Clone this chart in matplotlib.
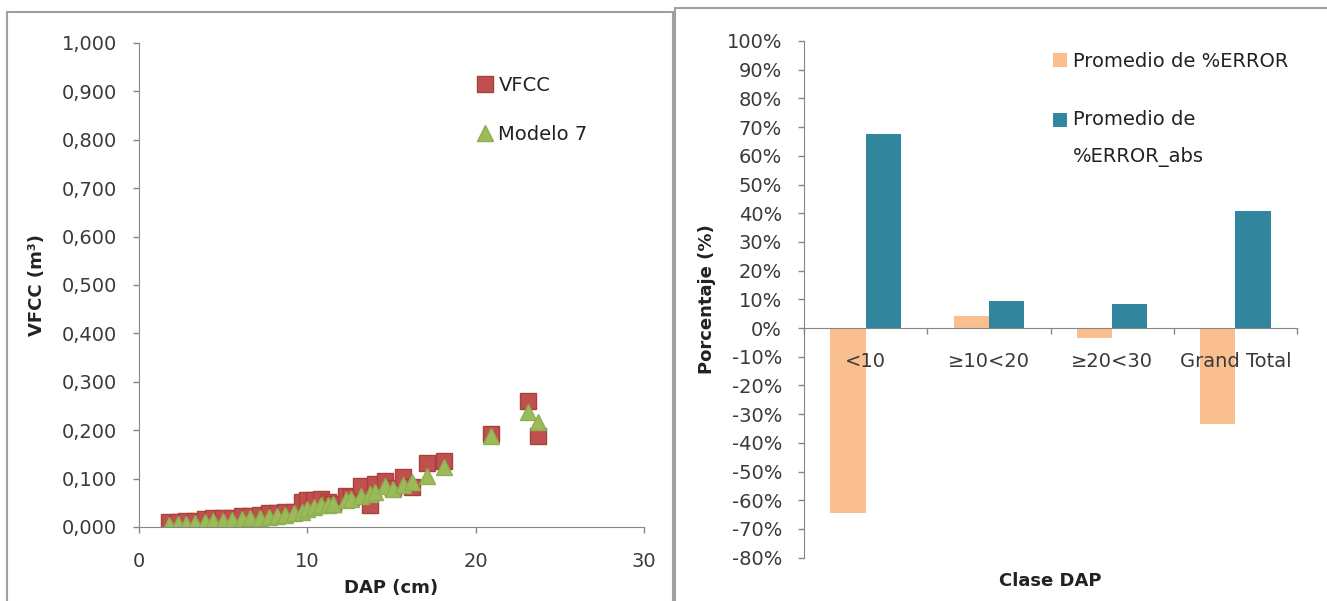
import numpy as np
import matplotlib
matplotlib.use('Agg')
import matplotlib.pyplot as plt
from matplotlib.patches import Rectangle
from matplotlib.legend_handler import HandlerPatch

plt.rcParams['font.family'] = ['DejaVu Sans']

# Volumen por árbol: DAP (cm) contra VFCC observado y el modelo 7
dap = [1.8, 2.3, 2.8, 3.3, 3.9, 4.4, 5.0, 5.5, 6.1, 6.6, 7.2, 7.7, 8.2, 8.7,
       9.2, 9.7, 10.0, 10.4, 10.8, 11.2, 11.5, 12.3, 12.6, 13.2, 13.7, 14.0,
       14.6, 15.1, 15.7, 16.2, 17.1, 18.1, 20.9, 23.1, 23.7]
vfcc = [0.010, 0.011, 0.012, 0.013, 0.017, 0.018, 0.018, 0.019, 0.022, 0.023,
        0.025, 0.028, 0.029, 0.030, 0.032, 0.052, 0.055, 0.056, 0.057, 0.052,
        0.047, 0.064, 0.062, 0.085, 0.045, 0.088, 0.095, 0.080, 0.103, 0.083,
        0.133, 0.137, 0.193, 0.261, 0.189]
modelo7 = [0.005, 0.006, 0.007, 0.008, 0.010, 0.012, 0.013, 0.015, 0.016,
           0.018, 0.019, 0.021, 0.023, 0.025, 0.028, 0.032, 0.038, 0.042,
           0.045, 0.046, 0.048, 0.056, 0.058, 0.064, 0.068, 0.072, 0.085,
           0.078, 0.086, 0.092, 0.105, 0.125, 0.188, 0.238, 0.217]

# Error promedio por clase diamétrica (%)
clases = ['<10', '≥10<20', '≥20<30', 'Grand Total']
error_prom = [-64.5, 4.3, -3.6, -33.5]
error_abs_prom = [67.5, 9.5, 8.3, 40.8]

W, H = 1327, 601
gris = '#868686'
texto = '#3a3a3a'


def fx(px):
    return px / W


def fy(py):
    return 1 - py / H


class HandlerArriba(HandlerPatch):
    # cuadro de leyenda alineado con la primera línea del texto
    def __init__(self, despl, **kw):
        super().__init__(**kw)
        self.despl = despl

    def create_artists(self, legend, orig_handle, xdescent, ydescent, width,
                       height, fontsize, trans):
        arts = super().create_artists(legend, orig_handle, xdescent, ydescent,
                                      width, height, fontsize, trans)
        for a in arts:
            a.set_y(a.get_y() + self.despl)
        return arts


fig = plt.figure(figsize=(W / 100, H / 100), dpi=100)
fig.patch.set_facecolor('white')

# marcos de los dos gráficos
fig.patches.append(Rectangle((fx(7), fy(640)), fx(673) - fx(7), fy(12) - fy(640),
                             transform=fig.transFigure, fill=False,
                             edgecolor='#a0a0a0', lw=1.5))
fig.patches.append(Rectangle((fx(675), fy(640)), fx(1340) - fx(675), fy(8) - fy(640),
                             transform=fig.transFigure, fill=False,
                             edgecolor='#a0a0a0', lw=1.5))

# ---------- dispersión ----------
ax1 = fig.add_axes([fx(139), fy(527), (644 - 139) / W, (527 - 43) / H])
ax1.plot(dap, vfcc, 's', ms=11, color='#C0504D', mec='#A8403D', label='VFCC')
ax1.plot(dap, modelo7, '^', ms=11, color='#9BBB59', mec='#8FAE52', label='Modelo 7')
ax1.set_xlim(0, 30)
ax1.set_ylim(0, 1)
ax1.set_xticks([0, 10, 20, 30])
yt = np.arange(0, 1.01, 0.1)
ax1.set_yticks(yt)
ax1.set_yticklabels([f'{v:.3f}'.replace('.', ',') for v in yt])
for s in ['top', 'right']:
    ax1.spines[s].set_visible(False)
for s in ['left', 'bottom']:
    ax1.spines[s].set_color(gris)
ax1.tick_params(axis='both', direction='out', length=4.3, width=1, color=gris,
                labelsize=14, labelcolor=texto)
ax1.tick_params(axis='x', pad=13.5)
ax1.tick_params(axis='y', pad=11.5)
ax1.set_xlabel('DAP (cm)', fontsize=13, fontweight='bold', color='#222222', va='center')
ax1.xaxis.set_label_coords(0.5, (527 - 588) / (527 - 43))
ax1.set_ylabel('VFCC (m³)', fontsize=13, fontweight='bold', color='#222222', va='center')
ax1.yaxis.set_label_coords((37 - 139) / (644 - 139), 0.5)

leg1 = ax1.legend(loc='upper left', bbox_to_anchor=(fx(477), fy(76)),
                  bbox_transform=fig.transFigure, frameon=False, fontsize=14,
                  handlelength=0.8, handletextpad=0.3, borderpad=0,
                  borderaxespad=0, labelspacing=1.52, numpoints=1)
for t in leg1.get_texts():
    t.set_color('#222222')

# ---------- barras ----------
ax2 = fig.add_axes([fx(804), fy(557.6), (1297 - 804) / W, (557.6 - 41) / H])
x = np.arange(len(clases))
w = 0.285
b1 = ax2.bar(x - w / 2, error_prom, w, color='#FABF8F')
b2 = ax2.bar(x + w / 2, error_abs_prom, w, color='#31859C')
ax2.set_xlim(-0.5, len(clases) - 0.5)
ax2.set_ylim(-80, 100)
yt2 = np.arange(-80, 101, 10)
ax2.set_yticks(yt2)
ax2.set_yticklabels([f'{v}%' for v in yt2])
ax2.set_xticks(np.arange(-0.5, len(clases), 1))
ax2.set_xticklabels([])
ax2.set_xticks(x, minor=True)
ax2.set_xticklabels(clases, minor=True)
for s in ['top', 'right']:
    ax2.spines[s].set_visible(False)
ax2.spines['bottom'].set_position(('data', 0))
for s in ['left', 'bottom']:
    ax2.spines[s].set_color(gris)
ax2.tick_params(axis='both', which='both', direction='out', width=1, color=gris,
                labelsize=14, labelcolor=texto)
ax2.tick_params(axis='y', length=4.3, pad=11.5)
ax2.tick_params(axis='x', which='major', length=4.3)
ax2.tick_params(axis='x', which='minor', length=0, pad=17)
ax2.set_xlabel('Clase DAP', fontsize=13, fontweight='bold', color='#222222', va='center')
ax2.xaxis.set_label_coords(0.5, (557.6 - 581) / (557.6 - 41))
ax2.set_ylabel('Porcentaje (%)', fontsize=13, fontweight='bold', color='#222222', va='center')
ax2.yaxis.set_label_coords((707 - 804) / (1297 - 804), 0.5)

h1, h2 = b1.patches[0], b2.patches[0]
leg2 = ax2.legend([h1, h2], ['Promedio de %ERROR', 'Promedio de\n%ERROR_abs'],
                  loc='upper left', bbox_to_anchor=(fx(1053), fy(52)),
                  bbox_transform=fig.transFigure, frameon=False, fontsize=14,
                  handlelength=0.72, handleheight=0.72, handletextpad=0.3,
                  borderpad=0, borderaxespad=0, labelspacing=1.99,
                  handler_map={h2: HandlerArriba(13.7)})
for t in leg2.get_texts():
    t.set_color('#222222')
    t.set_linespacing(2.25)

fig.savefig('out.png', dpi=100)
